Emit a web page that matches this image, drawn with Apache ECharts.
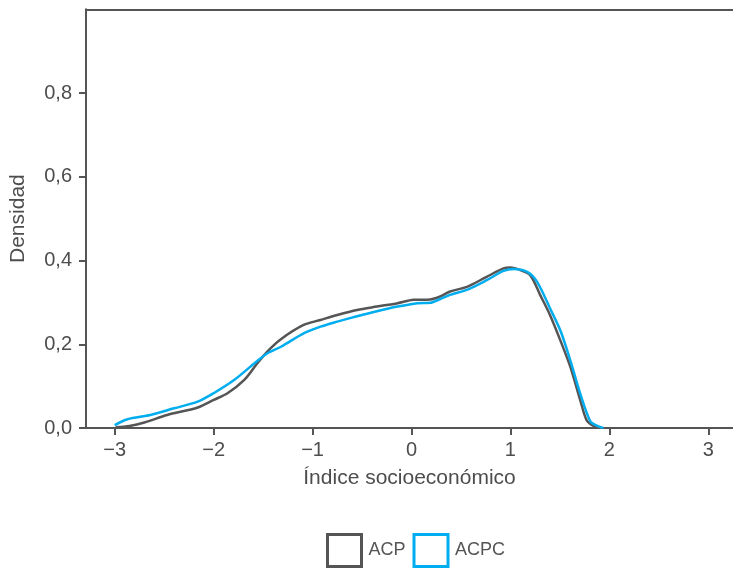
<!DOCTYPE html>
<html>
<head>
<meta charset="utf-8">
<script src="https://cdn.jsdelivr.net/npm/echarts@6/dist/echarts.min.js"></script>
<style>html,body{margin:0;padding:0;background:#fff}#c{width:733px;height:569px}</style>
</head>
<body>
<div id="c"></div>
<script>
const seriesNames = ['ACP', 'ACPC'];
const xTicks = [-3, -2, -1, 0, 1, 2, 3];
const yTicks = [0, 0.2, 0.4, 0.6, 0.8];
const acpX = [-2.99, -2.85, -2.70, -2.47, -2.16, -2.0, -1.86, -1.69, -1.56, -1.46, -1.32, -1.09, -0.92, -0.75, -0.55, -0.35, -0.14, 0.02, 0.19, 0.29, 0.39, 0.56, 0.76, 0.93, 1.0, 1.10, 1.20, 1.30, 1.40, 1.51, 1.61, 1.71, 1.77, 1.84, 1.91];
const acpY = [0.002, 0.005, 0.013, 0.031, 0.049, 0.067, 0.083, 0.115, 0.154, 0.182, 0.212, 0.246, 0.258, 0.270, 0.282, 0.290, 0.298, 0.306, 0.307, 0.314, 0.326, 0.337, 0.361, 0.381, 0.383, 0.377, 0.365, 0.318, 0.270, 0.206, 0.143, 0.063, 0.019, 0.005, 0.0];
const acpcX = [-3.0, -2.87, -2.64, -2.40, -2.16, -2.0, -1.79, -1.59, -1.46, -1.32, -1.09, -0.92, -0.75, -0.55, -0.35, -0.14, 0.06, 0.19, 0.29, 0.39, 0.56, 0.76, 0.93, 1.03, 1.17, 1.27, 1.40, 1.51, 1.61, 1.71, 1.81, 1.88, 1.94];
const acpcY = [0.007, 0.021, 0.031, 0.047, 0.063, 0.083, 0.115, 0.154, 0.178, 0.194, 0.226, 0.242, 0.254, 0.267, 0.279, 0.290, 0.298, 0.299, 0.308, 0.318, 0.330, 0.353, 0.375, 0.380, 0.373, 0.349, 0.286, 0.230, 0.158, 0.079, 0.015, 0.005, 0.0];

const colors = ['#555555', '#00aeef'];
const txt = '#4d4d4d';
const font = 'Liberation Sans, Arial, sans-serif';
function fmtX(v){ return v < 0 ? '\u2212' + Math.abs(v) : String(v); }
function fmtY(v){ return v.toFixed(1).replace('.', ','); }
function pairs(xs, ys){ return xs.map((x, i) => [x, ys[i]]); }

const chart = echarts.init(document.getElementById('c'), null, {renderer: 'canvas'});
chart.setOption({
  animation: false,
  textStyle: {fontFamily: font},
  grid: {left: 85, right: 0, top: 9.25, bottom: 141, containLabel: false},
  legend: {
    left: 321, top: 528,
    itemWidth: 34, itemHeight: 32, itemGap: 7,
    textStyle: {color: '#555', fontSize: 18, fontFamily: font, padding: [0, 0, 0, 2]},
    data: seriesNames.map((n, i) => ({
      name: n, icon: 'rect',
      itemStyle: {color: '#ffffff', borderColor: colors[i], borderWidth: 3}
    }))
  },
  xAxis: [{
    type: 'value', min: -3.29, max: 3.25,
    name: 'Índice socioeconómico', nameLocation: 'middle', nameGap: 40,
    nameTextStyle: {color: txt, fontSize: 21, fontFamily: font},
    splitLine: {show: false},
    axisLine: {show: true, onZero: false, lineStyle: {color: '#555', width: 2}},
    axisTick: {show: true, customValues: xTicks, length: 7, lineStyle: {color: '#555', width: 2}},
    axisLabel: {customValues: xTicks, formatter: fmtX, color: txt, fontSize: 20, margin: 12, fontFamily: font}
  }, {
    type: 'value', position: 'top', min: -3.29, max: 3.25,
    splitLine: {show: false}, axisTick: {show: false}, axisLabel: {show: false},
    axisLine: {show: true, onZero: false, lineStyle: {color: '#555', width: 2}}
  }],
  yAxis: {
    type: 'value', min: 0, max: 1.0,
    name: 'Densidad', nameLocation: 'middle', nameGap: 57,
    nameTextStyle: {color: txt, fontSize: 21, fontFamily: font},
    splitLine: {show: false},
    axisLine: {show: true, onZero: false, lineStyle: {color: '#555', width: 2}},
    axisTick: {show: true, customValues: yTicks, length: 7, lineStyle: {color: '#555', width: 2}},
    axisLabel: {customValues: yTicks, formatter: fmtY, color: txt, fontSize: 20, margin: 14, fontFamily: font}
  },
  series: [
    {name: seriesNames[0], type: 'line', data: pairs(acpX, acpY), smooth: 0.3, showSymbol: false, lineStyle: {color: colors[0], width: 2.5}, itemStyle: {color: colors[0]}},
    {name: seriesNames[1], type: 'line', data: pairs(acpcX, acpcY), smooth: 0.3, showSymbol: false, lineStyle: {color: colors[1], width: 2.5}, itemStyle: {color: colors[1]}}
  ]
});
</script>
</body>
</html>
